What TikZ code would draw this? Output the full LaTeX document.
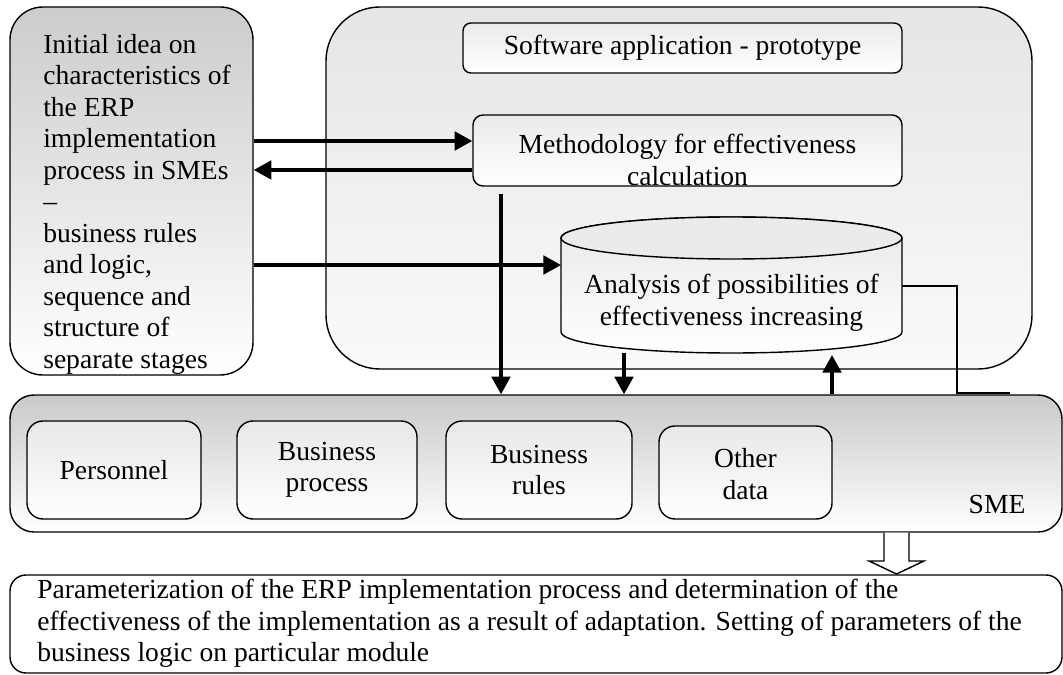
\documentclass[tikz,border=0pt]{standalone}
\usepackage{fontspec}
\setmainfont{Liberation Serif}
\usetikzlibrary{arrows.meta,fit}
\tikzset{
  txt/.style={font=\fontsize{19.6}{22.4}\selectfont, inner sep=0pt, align=center},
  box/.style={draw, line width=1pt, inner sep=0pt},
  part/.style={box, rounded corners=0.4cm, top color=black!9, bottom color=white},
  arr/.style={line width=2.6pt, -{Triangle[length=0.44cm,width=0.46cm]}},
}
\begin{document}
\begin{tikzpicture}[x=0.025cm,y=-0.025cm]
\useasboundingbox (0,0) rectangle (1063,675);
% left column
\node[box, rounded corners=0.82cm, top color=black!20, bottom color=white, fit={(10,7) (253,375)}] (idea) {};
\node[txt, anchor=north west, align=left] (ideatext) at (43,34) {Initial idea on\\characteristics of\\the ERP\\implementation\\process in SMEs\\--\\business rules\\and logic,\\sequence and\\structure of\\separate stages};
% prototype
\node[box, rounded corners=1.35cm, top color=black!10, bottom color=black!2, fit={(326,7) (1032,369)}] (proto) {};
\node[box, rounded corners=0.2cm, top color=black!8, bottom color=white, fit={(463,23) (902,73)}] (soft) {};
\node[txt] (softtext) at (soft.center) {Software application - prototype};
\node[box, rounded corners=0.25cm, top color=black!8, bottom color=white, fit={(473,115) (902,186)}] (meth) {};
\node[txt] (methtext) at (687.5,160) {Methodology for effectiveness\\calculation};
% cylinder
\path[draw, line width=1pt, top color=black!9, bottom color=white] (561,238) -- (561,332)
  arc[start angle=180, end angle=0, x radius=170.5, y radius=21] -- (902,238)
  arc[start angle=0, end angle=-180, x radius=170.5, y radius=21] -- cycle;
\draw[line width=1pt, fill=black!8] (731.5,238) ellipse [x radius=170.5, y radius=21];
\node[txt] (anal) at (731.5,303) {Analysis of possibilities of\\effectiveness increasing};
\coordinate (cylw) at (561,265);
\coordinate (cyle) at (902,286);
\coordinate (cylb) at (624,353);
\coordinate (cylu) at (832,355);
% SME
\node[box, rounded corners=0.6cm, top color=black!21, bottom color=white, fit={(10,395) (1062,532)}] (sme) {};
\node[part, fit={(27,421) (201,519)}] (pers) {};
\node[part, fit={(237,421) (417,519)}] (proc) {};
\node[part, fit={(446,421) (632,519)}] (rules) {};
\node[part, fit={(659,426) (832,519)}] (other) {};
\node[txt] at (pers.center) {Personnel};
\node[txt] at (proc.center) {Business\\process};
\node[txt] at (rules.center) {Business\\rules};
\node[txt] at ([yshift=-0.04cm]other.center) {Other\\data};
\node[txt] (smelabel) at (997,505) {SME};
% result
\node[box, rounded corners=0.4cm, fill=white, fit={(10,575) (1062,673)}] (result) {};
\node[txt, anchor=north west, align=left] (resulttext) at (37,579) {Parameterization of the ERP implementation process and determination of the\\effectiveness of the implementation as a result of adaptation. Setting of parameters of the\\business logic on particular module};
% connectors
\draw[arr] (idea.east |- 0,141) -- (meth.west |- 0,141);
\draw[arr] (meth.west |- 0,170) -- (idea.east |- 0,170);
\draw[arr] (idea.east |- cylw) -- (cylw);
\draw[arr, shorten <=0.18cm] (meth.south -| 501,0) -- (sme.north -| 501,0);
\draw[arr] (cylb) -- (sme.north -| cylb);
\draw[arr] (sme.north -| cylu) -- (cylu);
\draw[line width=1pt] (cyle) -| (957,393) -- (1010,393);
\draw[line width=1pt, fill=white] (sme.south -| 884,0) -- (884,561) -- (869,561) -- (896.5,574)
  -- (924,561) -- (909,561) -- (sme.south -| 909,0);
\end{tikzpicture}
\end{document}
